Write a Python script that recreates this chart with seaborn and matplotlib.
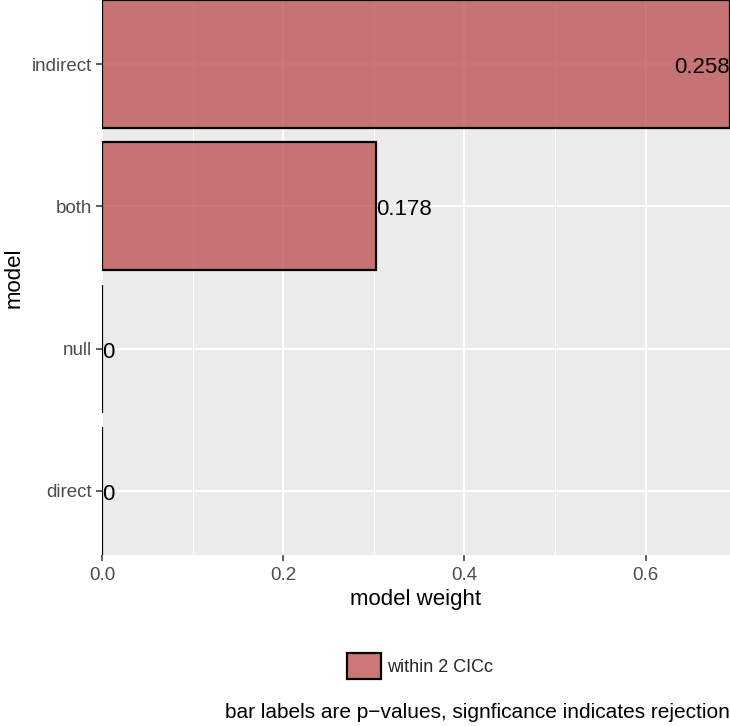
import matplotlib
matplotlib.use("Agg")
import matplotlib.pyplot as plt
import seaborn as sns
import pandas as pd
from matplotlib.patches import Patch
from matplotlib.colors import to_rgba

# ---- data ----
models = ["indirect", "both", "null", "direct"]
weights = [0.693, 0.302, 0.0, 0.0]
pvalue_labels = ["0.258", "0.178", "0", "0"]
legend_label = "within 2 CICc"
x_ticks = [0.0, 0.2, 0.4, 0.6]
x_tick_labels = ["0.0", "0.2", "0.4", "0.6"]
x_minor_ticks = [0.1, 0.3, 0.5]
x_title = "model weight"
y_title = "model"
caption = "bar labels are p\u2212values, signficance indicates rejection"

fill = "#C05555"

sns.set_theme(style="darkgrid")
plt.rcParams["font.family"] = ["Liberation Sans", "DejaVu Sans"]

W, H = 730, 726
fig = plt.figure(figsize=(W / 100, H / 100), dpi=100)
ax = fig.add_axes([102 / W, (H - 555) / H, (W - 102) / W, 555 / H])

df = pd.DataFrame({"model": models, "weight": weights, "group": [legend_label] * len(models)})
sns.barplot(data=df, x="weight", y="model", order=models, orient="h",
            color=fill, width=0.9, errorbar=None, ax=ax,
            edgecolor="black", linewidth=1.6)
for p in ax.patches:
    p.set_facecolor(to_rgba(fill, 0.8))
    p.set_edgecolor("black")
    p.set_linewidth(1.6)

xmax = max(weights)
ax.set_xlim(0, xmax)
ax.set_ylim(len(models) - 0.55, -0.45)

# bar labels ("inward" justification)
for i, (w, lab) in enumerate(zip(weights, pvalue_labels)):
    ha = "right" if w > xmax / 2 else "left"
    ax.text(w, i + 0.025, lab, ha=ha, va="center", fontsize=16, color="black", clip_on=False)

ax.set_facecolor("#EBEBEB")
ax.set_xticks(x_ticks)
ax.set_xticklabels(x_tick_labels)
ax.set_xticks(x_minor_ticks, minor=True)
ax.grid(True, which="major", color="white", linewidth=1.5)
ax.grid(True, which="minor", axis="x", color="white", linewidth=0.75)
ax.set_axisbelow(True)
for s in ax.spines.values():
    s.set_visible(False)

ax.tick_params(axis="both", which="major", length=4, width=1.1, color="#333333",
               labelsize=13.5, labelcolor="#4D4D4D")
ax.tick_params(axis="x", which="major", pad=4.5, bottom=True)
ax.tick_params(axis="y", which="major", pad=3.2, left=True)
ax.tick_params(which="minor", length=0)

ax.set_xlabel(x_title, fontsize=16, color="black", labelpad=4)
ax.set_ylabel(y_title, fontsize=16, color="black", labelpad=5)

handle = Patch(facecolor=to_rgba(fill, 0.8), edgecolor="black", linewidth=1.6)
fig.legend(handles=[handle], labels=[legend_label], loc="center",
           bbox_to_anchor=(420 / W, 1 - 666 / H), frameon=False,
           fontsize=13, handlelength=1.9, handleheight=1.9, handletextpad=0.3,
           borderpad=0, borderaxespad=0)

fig.text(1.0, 1 - 712 / H, caption, ha="right", va="center", fontsize=15, color="black")

fig.savefig("out.png", dpi=100)
